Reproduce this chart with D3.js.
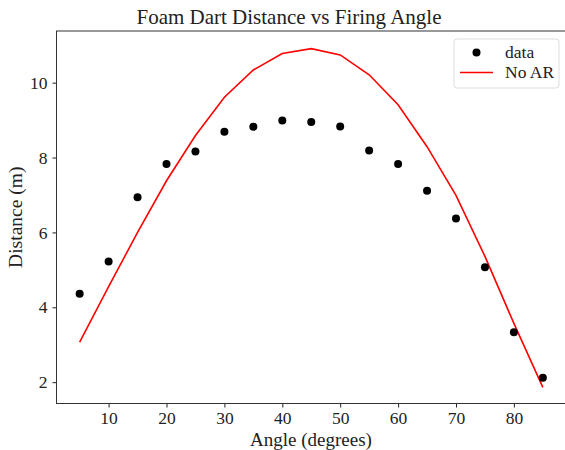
<!DOCTYPE html>
<html>
<head>
<meta charset="utf-8">
<script src="https://cdn.jsdelivr.net/npm/d3@7"></script>
<style>
  body { margin: 0; background: #fff; }
  svg { display: block; }
  text { font-family: "Liberation Serif", "Times New Roman", serif; fill: #222; }
</style>
</head>
<body>
<div id="chart"></div>
<script>
// firing angles (degrees)
var angles = [5, 10, 15, 20, 25, 30, 35, 40, 45, 50, 55, 60, 65, 70, 75, 80, 85]
// measured distance (m)
var measured = [4.36, 5.22, 6.94, 7.83, 8.16, 8.69, 8.82, 8.99, 8.95, 8.83, 8.19, 7.83, 7.11, 6.37, 5.07, 3.33, 2.12]
// model without air resistance
var noAR = [3.07, 4.55, 6.0, 7.38, 8.59, 9.61, 10.34, 10.78, 10.91, 10.74, 10.21, 9.41, 8.29, 6.99, 5.36, 3.57, 1.86]
var xTicks = [10, 20, 30, 40, 50, 60, 70, 80]
var yTicks = [2, 4, 6, 8, 10]

var W = 565, H = 450
var m = { left: 56.5, top: 31, right: 566, bottom: 403.5 }

var svg = d3.select('#chart').append('svg')
  .attr('width', W).attr('height', H)

var x = d3.scaleLinear().domain([1, 89]).range([m.left, m.right])
var y = d3.scaleLinear().domain([1.43, 11.38]).range([m.bottom, m.top])

// axes
var xAxis = svg.append('g')
  .attr('transform', 'translate(0,' + m.bottom + ')')
  .call(d3.axisBottom(x).tickValues(xTicks).tickSize(4).tickPadding(4).tickFormat(d3.format('d')))
var yAxis = svg.append('g')
  .attr('transform', 'translate(' + m.left + ',0)')
  .call(d3.axisLeft(y).tickValues(yTicks).tickSize(4).tickPadding(5).tickFormat(d3.format('d')))

;[xAxis, yAxis].forEach(function (g) {
  g.select('.domain').remove()
  g.selectAll('.tick line').attr('stroke', '#222').attr('stroke-width', 1)
  g.selectAll('.tick text').style('font-size', '17.5px').attr('fill', '#222')
})

// frame
svg.append('rect')
  .attr('x', m.left).attr('y', m.top)
  .attr('width', m.right - m.left).attr('height', m.bottom - m.top)
  .attr('fill', 'none').attr('stroke', '#333').attr('stroke-width', 1)

// model line
var line = d3.line()
  .x(function (d, i) { return x(angles[i]) })
  .y(function (d) { return y(d) })
svg.append('path')
  .datum(noAR)
  .attr('d', line)
  .attr('fill', 'none')
  .attr('stroke', 'red')
  .attr('stroke-width', 1.6)

// measured points
svg.selectAll('circle.pt')
  .data(measured)
  .enter().append('circle')
  .attr('class', 'pt')
  .attr('cx', function (d, i) { return x(angles[i]) })
  .attr('cy', function (d) { return y(d) })
  .attr('r', 4)
  .attr('fill', '#000')

// title and labels
svg.append('text')
  .attr('x', 289).attr('y', 24)
  .attr('text-anchor', 'middle')
  .style('font-size', '21px')
  .text('Foam Dart Distance vs Firing Angle')
svg.append('text')
  .attr('x', 311).attr('y', 446)
  .attr('text-anchor', 'middle')
  .style('font-size', '19px')
  .text('Angle (degrees)')
svg.append('text')
  .attr('transform', 'translate(22,' + ((m.top + m.bottom) / 2) + ') rotate(-90)')
  .attr('text-anchor', 'middle')
  .style('font-size', '19.5px')
  .text('Distance (m)')

// legend
var lg = svg.append('g')
lg.append('rect')
  .attr('x', 454).attr('y', 39).attr('width', 105).attr('height', 49)
  .attr('rx', 3).attr('fill', '#fff').attr('fill-opacity', 0.8)
  .attr('stroke', '#ddd').attr('stroke-width', 1)
lg.append('circle').attr('cx', 476.5).attr('cy', 52.5).attr('r', 4).attr('fill', '#000')
lg.append('line')
  .attr('x1', 460).attr('x2', 493).attr('y1', 72.5).attr('y2', 72.5)
  .attr('stroke', 'red').attr('stroke-width', 1.6)
lg.append('text').attr('x', 505).attr('y', 58).style('font-size', '17.5px').text('data')
lg.append('text').attr('x', 505).attr('y', 78).style('font-size', '17.5px').text('No AR')
</script>
</body>
</html>
